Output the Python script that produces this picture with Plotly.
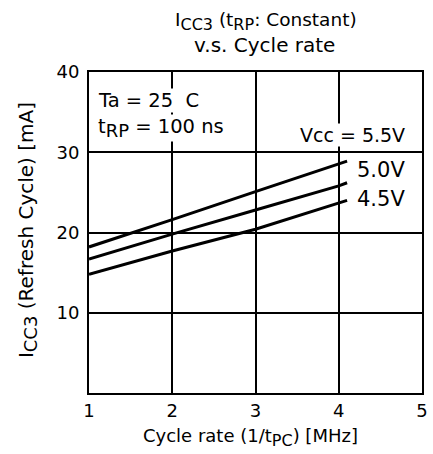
import plotly.graph_objects as go

x_vals = [1, 2, 3, 4, 4.1]
i_55 = [18.2, 21.6, 25.1, 28.5, 28.9]
i_50 = [16.7, 19.8, 22.8, 25.8, 26.2]
i_45 = [14.8, 17.7, 20.4, 23.6, 24.0]
x_ticks = [1, 2, 3, 4, 5]
y_ticks = [10, 20, 30, 40]

FONT = "DejaVu Sans, Liberation Sans, sans-serif"
W, H = 433, 454
L, R, T, B = 89, 5, 72, 61
PW, PH = W - L - R, H - T - B


def sub(s, px):
    return f'<sub><span style="font-size:{px}px">{s}</span></sub>'


fig = go.Figure()
for ys in (i_55, i_50, i_45):
    fig.add_trace(go.Scatter(x=x_vals, y=ys, mode="lines",
                             line=dict(color="black", width=3), showlegend=False))

fig.update_xaxes(range=[1, 5], tickvals=x_ticks, ticktext=[str(t) for t in x_ticks],
                 showgrid=True, gridcolor="black", gridwidth=1.5,
                 showline=True, linecolor="black", linewidth=2, mirror=True,
                 zeroline=False, ticks="", ticklabelstandoff=0,
                 tickfont=dict(size=18, color="black", family=FONT))
fig.update_yaxes(range=[0, 40], tickvals=y_ticks, ticktext=[str(t) for t in y_ticks],
                 showgrid=True, gridcolor="black", gridwidth=1.5,
                 showline=True, linecolor="black", linewidth=2, mirror=True,
                 zeroline=False, ticks="", ticklabelstandoff=4,
                 tickfont=dict(size=18, color="black", family=FONT))


def px2paper(px, py):
    return (px - L) / PW, 1 - (py - T) / PH


outer = [
    dict(text="I" + sub("CC3", 16) + " (t" + sub("RP", 16) + ": Constant)", x=269, y=21, size=18.5, angle=0),
    dict(text="v.s. Cycle rate", x=268, y=45, size=20, angle=0),
    dict(text="Cycle rate (1/t" + sub("PC", 16) + ") [MHz]", x=253, y=438, size=18, angle=0),
    dict(text="I" + sub("CC3", 18) + " (Refresh Cycle) [mA]", x=26, y=230, size=20, angle=-90),
]
for a in outer:
    xx, yy = px2paper(a["x"], a["y"])
    fig.add_annotation(text=a["text"], x=xx, y=yy, xref="paper", yref="paper",
                       showarrow=False, xanchor="center", yanchor="middle",
                       textangle=a["angle"],
                       font=dict(size=a["size"], color="black", family=FONT))

inner = [
    dict(text="Ta = 25  C", x=1.094, y=36.5, xa="left", size=19.5),
    dict(text="t" + sub("RP", 18) + " = 100 ns", x=1.094, y=33.0, xa="left", size=19.5),
    dict(text="Vcc = 5.5V", x=4.81, y=32.1, xa="right", size=19),
    dict(text="5.0V", x=4.81, y=27.8, xa="right", size=21),
    dict(text="4.5V", x=4.81, y=24.2, xa="right", size=21),
]
for a in inner:
    fig.add_annotation(text=a["text"], x=a["x"], y=a["y"], xref="x", yref="y",
                       showarrow=False, xanchor=a["xa"], yanchor="middle",
                       bgcolor="white", borderpad=0,
                       font=dict(size=a["size"], color="black", family=FONT))

fig.update_layout(width=W, height=H, margin=dict(l=L, r=R, t=T, b=B),
                  plot_bgcolor="white", paper_bgcolor="white")

fig.write_html("out.html")
